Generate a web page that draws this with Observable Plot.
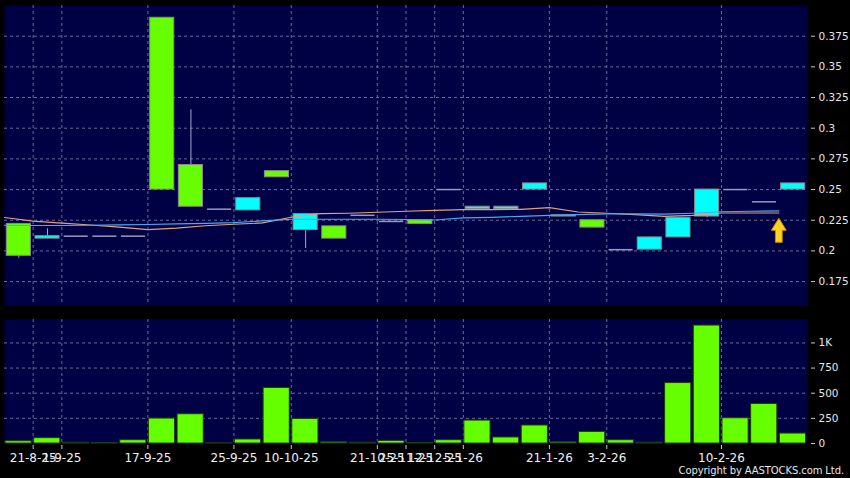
<!DOCTYPE html>
<html><head><meta charset="utf-8">
<script src="https://cdn.jsdelivr.net/npm/d3@7"></script>
<script src="https://cdn.jsdelivr.net/npm/@observablehq/plot@0.6"></script>
<style>
html,body{margin:0;padding:0;background:#000;}
#chart{position:relative;width:850px;height:478px;background:#000;overflow:hidden;}
#chart svg{display:block;}
#copy{position:absolute;right:6px;top:465px;font-family:"DejaVu Sans";font-size:10px;line-height:12px;color:#e6e6e6;letter-spacing:-0.1px;white-space:nowrap;}
</style></head><body>
<div id="chart"></div>
<script>
// ---- data (one entry per trading session) ----
const opens  = [0.222,0.210,0.212,0.212,0.212,0.390,0.270,0.234,0.233,0.265,0.217,0.220,0.229,0.224,0.225,0.250,0.234,0.234,0.250,0.228,0.225,0.201,0.201,0.211,0.228,0.250,0.240,0.250];
const closes = [0.196,0.212,0.212,0.212,0.212,0.250,0.236,0.234,0.243,0.260,0.230,0.210,0.229,0.224,0.222,0.250,0.236,0.236,0.255,0.229,0.219,0.201,0.211,0.227,0.250,0.250,0.240,0.255];
const highs  = [0.222,0.218,0.212,0.212,0.212,0.390,0.315,0.234,0.243,0.265,0.230,0.220,0.229,0.224,0.225,0.250,0.236,0.236,0.255,0.229,0.225,0.201,0.211,0.227,0.250,0.250,0.240,0.255];
const lows   = [0.194,0.210,0.212,0.212,0.212,0.250,0.236,0.234,0.233,0.260,0.202,0.210,0.229,0.224,0.222,0.250,0.234,0.234,0.250,0.228,0.219,0.201,0.201,0.211,0.227,0.250,0.240,0.250];
const volumes = [23,53,8,3,33,248,291,2,40,552,244,12,8,26,5,33,228,60,179,12,115,33,8,601,1173,251,393,99];
const maSlow = [0.2272,0.2242,0.2227,0.2211,0.2193,0.2174,0.2186,0.2205,0.2217,0.2228,0.2274,0.2304,0.2307,0.2315,0.2323,0.2331,0.2337,0.2337,0.2339,0.2353,0.2317,0.2307,0.2295,0.2282,0.2290,0.2309,0.2309,0.2309];
const maFast = [0.2209,0.2207,0.2207,0.2209,0.2212,0.2215,0.2221,0.2225,0.2231,0.2245,0.2258,0.2258,0.2258,0.2258,0.2256,0.2252,0.2269,0.2274,0.2282,0.2290,0.2296,0.2301,0.2301,0.2299,0.2307,0.2319,0.2323,0.2326];
const dateTickAt = [1,2,5,8,10,13,14,15,16,19,21,25];
const dateTickLabels = ["21-8-25","1-9-25","17-9-25","25-9-25","10-10-25","21-10-25","25-11-25","12-12-25","5-1-26","21-1-26","3-2-26","10-2-26"];
const priceTicks = [0.175,0.2,0.225,0.25,0.275,0.3,0.325,0.35,0.375];
const volumeTicks = [0,250,500,750,1000];
const arrowMark = [{i:27, price:0.2168}];

// ---- build tables ----
const rows = opens.map((o,i)=>({i, open:o, close:closes[i], high:highs[i], low:lows[i], vol:volumes[i]}));
const bodies = rows.filter(d=>d.open!==d.close);
const flats = rows.filter(d=>d.open===d.close);
const slowRows = maSlow.map((v,i)=>({i, v}));
const fastRows = maFast.map((v,i)=>({i, v}));
const labelMap = new Map(dateTickAt.map((p,k)=>[p, dateTickLabels[k]]));

const NAVY = "#000044";
const GRID = {stroke:"#6a6a9c", strokeDasharray:"3,3", strokeWidth:1};
const UP = "#00ffff", DOWN = "#66ff00";
const arrowSymbol = {draw(ctx, size){
  const r = Math.sqrt(size/Math.PI);
  ctx.moveTo(0,-r); ctx.lineTo(0.62*r,0); ctx.lineTo(0.28*r,0); ctx.lineTo(0.28*r,r);
  ctx.lineTo(-0.28*r,r); ctx.lineTo(-0.28*r,0); ctx.lineTo(-0.62*r,0); ctx.closePath();
}};

const topChart = Plot.plot({
  width:850, height:310, marginTop:5, marginBottom:5, marginLeft:4, marginRight:43,
  style:{background:"#000", fontFamily:"DejaVu Sans", fontSize:"10.5px", color:"#e6e6e6"},
  x:{type:"linear", domain:[0,28], axis:null},
  y:{domain:[0.1555,0.4], axis:null},
  color:{type:"identity"},
  marks:[
    Plot.frame({fill:NAVY, stroke:null}),
    Plot.ruleY(priceTicks, GRID),
    Plot.ruleX(dateTickAt, GRID),
    Plot.axisY(priceTicks, {anchor:"right", tickSize:4, tickPadding:4, dx:3, stroke:"#c8c8c8", fill:"#e6e6e6", label:null, tickFormat:d=>String(+d.toFixed(3))}),
    Plot.ruleX(rows.filter(d=>d.high>d.low), {x:d=>d.i+0.5, y1:"low", y2:"high", stroke:"#a8a8c4", strokeWidth:1}),
    Plot.rect(bodies, {x1:d=>d.i, x2:d=>d.i+1, y1:"open", y2:"close", fill:d=>d.close>d.open?UP:DOWN, stroke:"#8a8a8a", strokeWidth:1, insetLeft:2.3, insetRight:2.3}),
    Plot.ruleY(flats, {x1:d=>d.i+0.08, x2:d=>d.i+0.92, y:"open", stroke:"#9a9abc", strokeWidth:1.5}),
    Plot.line(slowRows, {x:"i", y:"v", stroke:"#e0a080", strokeWidth:1.2}),
    Plot.line(fastRows, {x:"i", y:"v", stroke:"#4aa8f0", strokeWidth:1.2}),
    Plot.dot(arrowMark, {x:"i", y:"price", symbol:arrowSymbol, r:12, fill:"#ffd21f", stroke:"#c89000", strokeWidth:1})
  ]
});

const volChart = Plot.plot({
  width:850, height:168, marginTop:9, marginBottom:35, marginLeft:4, marginRight:43,
  style:{background:"#000", fontFamily:"DejaVu Sans", fontSize:"10.5px", color:"#e6e6e6"},
  x:{type:"linear", domain:[0,28], axis:null},
  y:{domain:[0,1233], axis:null},
  marks:[
    Plot.frame({fill:NAVY, stroke:null}),
    Plot.ruleY(volumeTicks.filter(d=>d>0), GRID),
    Plot.ruleX(dateTickAt, GRID),
    Plot.rect(rows, {x1:d=>d.i, x2:d=>d.i+1, y1:0, y2:"vol", fill:DOWN, stroke:"#1e3c0a", strokeWidth:1, insetLeft:1, insetRight:1.5}),
    Plot.axisY(volumeTicks, {anchor:"right", tickSize:4, tickPadding:4, dx:3, stroke:"#c8c8c8", fill:"#e6e6e6", label:null, tickFormat:d=>d>=1000?(d/1000)+"K":String(d)}),
    Plot.axisX(dateTickAt, {anchor:"bottom", tickSize:4, tickPadding:4, dy:2, stroke:"#c8c8c8", fill:"#f0f0f0", fontSize:12, label:null, tickFormat:d=>labelMap.get(d)})
  ]
});

const chart = document.getElementById("chart");
chart.appendChild(topChart);
chart.appendChild(volChart);
const copy = document.createElement("div");
copy.id = "copy";
copy.textContent = "Copyright by AASTOCKS.com Ltd.";
chart.appendChild(copy);
</script>
</body></html>
